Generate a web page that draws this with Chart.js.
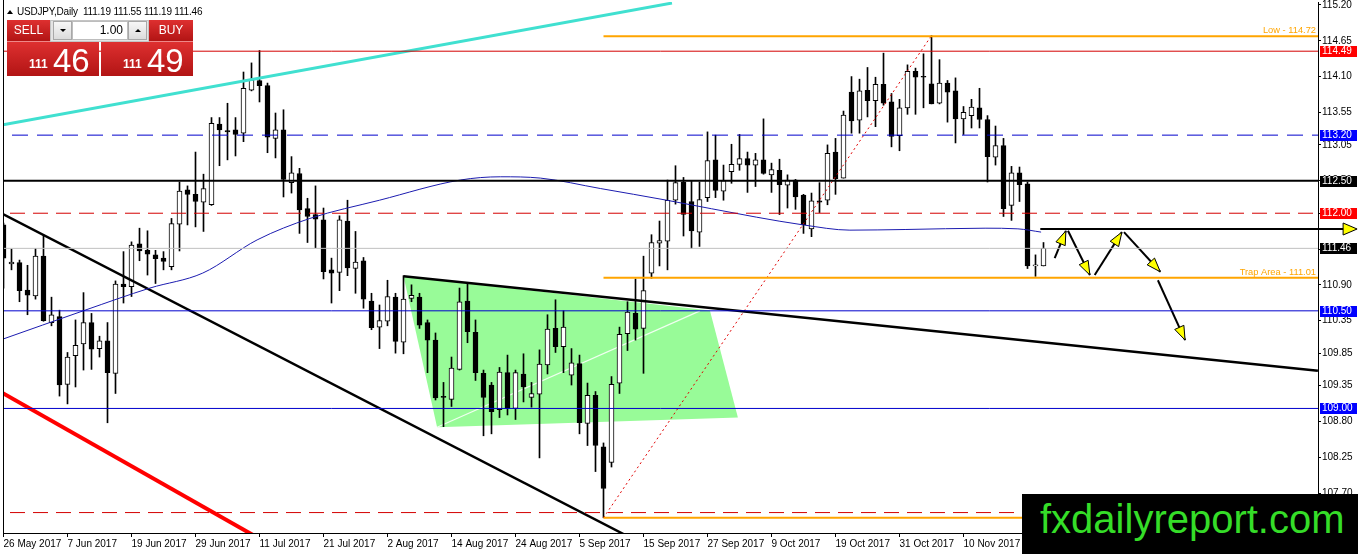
<!DOCTYPE html>
<html><head><meta charset="utf-8">
<script src="https://cdn.jsdelivr.net/npm/chart.js@4.4.1/dist/chart.umd.min.js"></script>
<style>
html,body{margin:0;padding:0;background:#fff;overflow:hidden}
#wrap{position:relative;width:1358px;height:554px;font-family:'Liberation Sans',Arial,sans-serif}
canvas{position:absolute;left:0;top:0}
.a{position:absolute;box-sizing:border-box}
.red{background:linear-gradient(#de3030,#b21414);color:#fff}
.btn{font-size:12px;line-height:21px;text-align:center;border-bottom:1px solid #e88}
.gray{background:linear-gradient(#f7f7f7,#dcdcdc);border:1px solid #a8a8a8}
</style></head>
<body>
<div id="wrap">
<canvas id="c" width="1358" height="554"></canvas>
<div class="a" style="left:7px;top:10px;width:0;height:0;border-left:3px solid transparent;border-right:3px solid transparent;border-bottom:4px solid #000"></div>
<div class="a" style="left:17px;top:6px;font-size:10px;line-height:12px;white-space:nowrap;letter-spacing:-0.2px;color:#000">USDJPY,Daily&nbsp; 111.19 111.55 111.19 111.46</div>
<div class="a red btn" style="left:7px;top:20px;width:43px;height:22px">SELL</div>
<div class="a" style="left:50px;top:20px;width:99px;height:22px;background:#e4e4e4;border:1px solid #c4c4c4"></div>
<div class="a gray" style="left:53px;top:21px;width:19px;height:19px"><div class="a" style="left:6px;top:7px;width:0;height:0;border-left:3px solid transparent;border-right:3px solid transparent;border-top:3px solid #000"></div></div>
<div class="a" style="left:72px;top:21px;width:56px;height:19px;background:#fff;border:1px solid #bdbdbd;font-size:12px;line-height:17px;text-align:right;padding-right:4px;color:#000">1.00</div>
<div class="a gray" style="left:128px;top:21px;width:19px;height:19px"><div class="a" style="left:6px;top:7px;width:0;height:0;border-left:3px solid transparent;border-right:3px solid transparent;border-bottom:3px solid #000"></div></div>
<div class="a red btn" style="left:149px;top:20px;width:44px;height:22px">BUY</div>
<div class="a red" style="left:7px;top:42px;width:92px;height:34px">
  <span class="a" style="left:22px;top:16px;font-size:12px;line-height:12px;font-weight:bold">111</span>
  <span class="a" style="left:46px;top:2px;font-size:33px;line-height:33px">46</span>
</div>
<div class="a red" style="left:101px;top:42px;width:92px;height:34px">
  <span class="a" style="left:22px;top:16px;font-size:12px;line-height:12px;font-weight:bold">111</span>
  <span class="a" style="left:46px;top:2px;font-size:33px;line-height:33px">49</span>
</div>
<div class="a" style="left:1022px;top:494px;width:336px;height:60px;background:#000">
  <span class="a" style="left:18px;top:5px;font-size:40px;line-height:40px;color:#35dd28;white-space:nowrap">fxdailyreport.com</span>
</div>
</div>
<script>
const dateLabels = ["26 May 2017","7 Jun 2017","19 Jun 2017","29 Jun 2017","11 Jul 2017","21 Jul 2017","2 Aug 2017","14 Aug 2017","24 Aug 2017","5 Sep 2017","15 Sep 2017","27 Sep 2017","9 Oct 2017","19 Oct 2017","31 Oct 2017","10 Nov 2017"];
const priceTicks = [115.20,114.65,114.10,113.55,113.05,112.50,112.00,111.45,110.90,110.35,109.85,109.35,108.80,108.25,107.70];

const opens = [111.82,111.22,111.24,110.82,110.73,111.34,110.32,110.41,109.37,109.81,109.99,110.32,109.92,110.04,109.54,110.91,110.87,111.53,111.43,111.36,
111.31,111.18,111.83,112.36,112.29,112.17,112.13,113.37,113.27,113.28,113.23,113.89,114.04,113.96,113.15,113.28,112.47,112.61,112.07,111.98,
111.90,111.13,111.09,111.88,111.15,111.27,110.65,110.25,110.34,110.71,110.02,110.69,110.71,110.32,110.05,109.17,109.14,109.60,110.65,110.17,
109.54,109.36,108.98,109.55,109.00,109.53,109.17,109.22,109.67,110.23,109.95,109.51,109.69,108.77,109.20,108.41,108.17,109.39,110.15,110.46,
110.23,111.08,111.54,111.57,112.20,112.48,112.18,111.71,112.24,112.82,112.34,112.64,112.75,112.84,112.74,112.82,112.59,112.66,112.43,112.51,
112.28,111.76,112.19,112.20,112.94,112.54,113.86,113.43,113.89,113.73,113.98,113.71,113.19,113.62,114.18,114.09,113.99,113.69,114.00,113.88,
113.45,113.50,113.62,113.44,112.86,113.04,112.12,112.62,112.45,111.19,111.19];
const highs = [111.85,111.45,111.28,111.20,111.46,111.67,110.71,110.51,109.86,110.36,110.78,110.46,110.11,110.32,110.96,111.41,111.56,111.77,111.73,111.43,
111.41,111.92,112.48,112.42,112.94,112.60,113.47,113.47,113.69,113.47,114.17,114.31,114.50,114.00,113.54,113.59,112.87,112.69,112.23,112.42,
112.08,111.31,111.96,112.20,111.72,111.32,110.77,110.59,110.97,110.77,111.04,110.90,110.77,110.36,110.16,109.40,109.79,110.85,110.92,110.36,
109.59,109.40,109.63,109.82,109.59,109.84,109.40,109.90,110.44,110.67,110.50,109.92,109.82,109.39,109.26,108.47,109.49,110.25,110.64,110.99,
111.34,111.67,111.88,112.51,112.73,112.55,112.50,112.48,113.25,113.20,112.74,113.06,113.21,112.94,112.92,113.45,112.77,112.83,112.59,112.52,
112.29,112.31,112.47,113.05,113.15,113.57,114.10,114.06,114.24,114.09,114.46,113.84,113.75,114.28,114.23,114.45,114.73,114.36,114.04,114.08,
113.64,113.75,113.92,113.50,113.34,113.15,112.72,112.71,112.48,111.36,111.55];
const lows = [110.85,111.13,110.64,110.44,110.68,110.34,110.27,109.19,109.07,109.33,109.59,109.60,109.79,108.78,109.23,110.62,110.72,111.27,111.05,110.92,
111.13,111.13,111.42,111.82,111.79,111.72,112.12,112.73,112.82,112.88,113.10,113.88,113.71,112.93,112.85,112.25,112.31,111.69,111.55,111.47,
110.99,110.62,110.81,111.04,110.77,110.54,110.21,109.92,110.27,109.85,109.84,110.64,110.23,109.55,109.13,108.72,109.03,109.59,110.01,109.43,
108.58,108.61,108.86,108.90,108.83,109.10,109.02,108.24,109.53,109.86,109.55,109.36,108.61,108.43,108.03,107.32,108.10,109.23,109.89,110.05,
109.54,111.00,111.19,111.13,112.14,111.65,111.46,111.49,112.18,112.24,112.20,112.46,112.66,112.32,112.41,112.60,112.32,111.98,112.08,112.06,
111.69,111.64,112.01,112.13,112.29,112.54,113.23,113.23,113.48,113.33,113.66,113.02,112.96,113.52,113.52,113.62,113.68,113.68,113.40,113.08,
113.21,113.31,113.31,112.48,112.74,111.95,111.89,112.18,111.15,111.03,111.19];
const closes = [111.31,111.25,110.81,110.74,111.34,110.35,110.44,109.36,109.79,109.97,110.32,109.91,110.04,109.55,110.91,110.87,111.51,111.42,111.37,111.30,
111.26,111.84,112.34,112.29,112.18,112.38,113.38,113.28,113.25,113.21,113.92,114.05,113.96,113.17,113.28,112.52,112.62,112.05,111.95,111.91,
111.10,111.08,111.90,111.16,111.25,110.68,110.24,110.35,110.72,110.03,110.68,110.74,110.28,110.05,109.16,109.17,109.62,110.64,110.18,109.55,
109.17,108.95,109.56,109.00,109.55,109.33,109.23,109.68,110.22,109.95,110.25,109.70,108.78,109.20,108.43,107.77,109.37,110.14,110.48,110.22,
110.81,111.55,111.58,112.20,112.47,111.98,111.73,112.21,112.81,112.35,112.50,112.75,112.84,112.74,112.82,112.61,112.67,112.44,112.51,112.25,
111.82,112.19,112.17,112.92,112.53,113.51,113.42,113.88,113.73,113.98,113.69,113.18,113.62,114.18,114.09,114.09,113.68,114.00,113.86,113.45,
113.55,113.63,113.44,112.87,113.04,112.07,112.62,112.44,111.19,111.20,111.46];

// moving average, read at selected bars
const maBars   = [-0.44,10.19,18.3,24.9,31.7,38.3,47.0,57.1,62.1,67.1,74.6,82.9,94.1,100.0,105.8,112.8,122.7,126.8,129.7];
const maValues = [110.05,110.51,110.85,111.08,111.59,111.92,112.20,112.51,112.56,112.54,112.38,112.20,111.94,111.82,111.74,111.75,111.77,111.76,111.71];

// horizontal levels
const levelRed = [114.49];
const levelBlueDash = [113.20];
const levelBlack = [112.50];
const levelRedDash = [112.00, 107.40];
const levelBid = [111.46];
const levelBlue = [110.50, 109.00];
const levelOrange = [114.72, 111.01, 107.32];
const orangeFromBar = 75;
const orangeTexts = ["Low - 114.72", "Trap Area - 111.01"];
const orangeTextLevels = [114.72, 111.01];

// trend objects as [bar, price] pairs
const cyanLine = [[-0.06,113.36],[83.56,115.23]];
const blackDownLine = [[-0.44,112.01],[77.5,107.07]];
const redDownLine = [[-0.44,109.26],[34.56,106.82]];
const wedgeTopLine = [[50.0,111.03],[164.3,109.58]];
const redDotLine = [[75,107.32],[116,114.73]];
const greenZone = [[50.0,111.03],[88.3,110.505],[91.8,108.86],[54.2,108.71],[50.0,111.03]];
const greenDiag = [[54.2,108.71],[87.06,110.50]];
const targetLine = [[129.6,111.76],[167.7,111.76]];
const forecastArrows = [
  [[131.4,111.31],[132.8,111.73]],
  [[133.06,111.73],[135.8,111.05]],
  [[136.4,111.05],[139.8,111.71]],
  [[140.06,111.71],[144.6,111.10]],
  [[144.3,110.97],[147.7,110.05]]
];
const axisTags = [114.49,113.20,112.50,112.00,111.46,110.50,109.00];
const axisTagColors = ['#ff0000','#0000ff','#000000','#ff0000','#000000','#0000ff','#0000ff'];

const X_MIN = -0.0625, X_MAX = 164.3125, Y_MIN = 107.086, Y_MAX = 115.246;
const FONT = "'Liberation Sans', Arial, sans-serif";
Chart.defaults.font.family = FONT;

const pts = arr => arr.map(p => ({x:p[0], y:p[1]}));
const lineDS = (data, color, width, extra) => Object.assign({type:'line', data, borderColor:color, borderWidth:width, pointRadius:0, tension:0, fill:false, order:5}, extra||{});
const hDS = (p, from, color, width, dash) => lineDS([{x:from,y:p},{x:X_MAX+2,y:p}], color, width, {borderDash:dash||[]});

const datasets = [];
// green zone
datasets.push(lineDS(pts(greenZone), 'rgba(0,0,0,0)', 0, {fill:'shape', backgroundColor:'#98fb98', order:40}));
datasets.push(lineDS(pts(greenDiag), 'rgba(255,255,255,0.85)', 1.2, {order:39}));
// candles
datasets.push({type:'bar', data: lows.map((l,i)=>({x:i,y:[l,highs[i]]})), backgroundColor:'#000', barThickness:1, grouped:false, order:31, minBarLength:1});
datasets.push({type:'bar', data: opens.map((o,i)=>({x:i,y:[Math.min(o,closes[i]),Math.max(o,closes[i])]})),
  backgroundColor: opens.map((o,i)=> closes[i] > o ? '#ffffff' : '#000000'),
  borderColor:'#000', borderWidth:1, borderSkipped:false, barThickness:5, grouped:false, order:30, minBarLength:1});
// levels
levelBid.forEach(p => datasets.push(hDS(p, X_MIN-2, '#c0c0c0', 1)));
levelRed.forEach(p => datasets.push(hDS(p, X_MIN-2, '#d40000', 1)));
levelBlueDash.forEach(p => datasets.push(hDS(p, X_MIN-2, '#0000cd', 1, [16,9])));
levelBlack.forEach(p => datasets.push(hDS(p, X_MIN-2, '#000000', 2)));
levelRedDash.forEach(p => datasets.push(hDS(p, X_MIN-2, '#d40000', 1, [15,8])));
levelBlue.forEach(p => datasets.push(hDS(p, X_MIN-2, '#0000cd', 1)));
levelOrange.forEach(p => datasets.push(hDS(p, orangeFromBar, '#ffa500', 2)));
// MA
datasets.push(lineDS(maBars.map((b,i)=>({x:b,y:maValues[i]})), '#1c1cb0', 1, {tension:0.4, cubicInterpolationMode:'monotone'}));
// trend lines
datasets.push(lineDS(pts(cyanLine), '#40e0d0', 3));
datasets.push(lineDS(pts(blackDownLine), '#000', 2.5));
datasets.push(lineDS(pts(redDownLine), '#ff0000', 4));
datasets.push(lineDS(pts(wedgeTopLine), '#000', 2.5));
datasets.push(lineDS(pts(redDotLine), '#e00000', 1, {borderDash:[2,3]}));
forecastArrows.forEach(a => datasets.push(lineDS(pts(a), '#000', 2)));

function head(ctx, x1, y1, x2, y2, len, half) {
  const a = Math.atan2(y2-y1, x2-x1);
  const bx = x2 - len*Math.cos(a), by = y2 - len*Math.sin(a);
  ctx.beginPath();
  ctx.moveTo(x2, y2);
  ctx.lineTo(bx + half*Math.sin(a), by - half*Math.cos(a));
  ctx.lineTo(bx - half*Math.sin(a), by + half*Math.cos(a));
  ctx.closePath();
  ctx.fillStyle = '#ffff00'; ctx.fill();
  ctx.strokeStyle = '#000'; ctx.lineWidth = 1; ctx.stroke();
}

const overlay = {
  id:'overlay',
  afterDatasetsDraw(chart) {
    const {ctx, scales:{x, y}, chartArea} = chart;
    ctx.save();
    // arrow heads
    forecastArrows.forEach(a => {
      head(ctx, x.getPixelForValue(a[0][0]), y.getPixelForValue(a[0][1]), x.getPixelForValue(a[1][0]), y.getPixelForValue(a[1][1]), 14, 5);
    });
    // orange texts
    ctx.font = '9.3px ' + FONT;
    ctx.fillStyle = '#ffa500';
    ctx.textAlign = 'right'; ctx.textBaseline = 'alphabetic';
    orangeTexts.forEach((t,i) => ctx.fillText(t, chartArea.right - 2, y.getPixelForValue(orangeTextLevels[i]) - 3));
    // left frame
    ctx.strokeStyle = '#000'; ctx.lineWidth = 1;
    ctx.beginPath(); ctx.moveTo(chartArea.left + 0.5, 0); ctx.lineTo(chartArea.left + 0.5, chartArea.bottom); ctx.stroke();
    ctx.restore();
  },
  afterDraw(chart) {
    const {ctx, scales:{x, y}, chartArea} = chart;
    ctx.save();
    // axis tags
    ctx.font = '10px ' + FONT;
    ctx.textAlign = 'left'; ctx.textBaseline = 'middle';
    axisTags.forEach((v,i) => {
      const py = Math.round(y.getPixelForValue(v));
      ctx.fillStyle = axisTagColors[i];
      ctx.fillRect(chartArea.right + 2, py - 5, 37, 11);
      ctx.fillStyle = '#fff';
      ctx.fillText(v.toFixed(2), chartArea.right + 4, py + 0.5);
    });
    // target line with end arrow
    const x1 = x.getPixelForValue(targetLine[0][0]), x2 = x.getPixelForValue(targetLine[1][0]);
    const py = Math.round(y.getPixelForValue(targetLine[0][1]));
    ctx.strokeStyle = '#000'; ctx.lineWidth = 2;
    ctx.beginPath(); ctx.moveTo(x1, py); ctx.lineTo(x2, py); ctx.stroke();
    ctx.beginPath();
    ctx.moveTo(x2 - 2, py - 6); ctx.lineTo(x2 + 12, py); ctx.lineTo(x2 - 2, py + 6); ctx.closePath();
    ctx.fillStyle = '#ffff00'; ctx.fill(); ctx.lineWidth = 1; ctx.stroke();
    ctx.restore();
  }
};

new Chart(document.getElementById('c'), {
  type:'bar',
  data:{datasets},
  options:{
    responsive:false, animation:false, events:[],
    layout:{padding:{left:3, top:2, right:0, bottom:0}},
    plugins:{legend:{display:false}, tooltip:{enabled:false}},
    scales:{
      x:{type:'linear', position:'bottom', min:X_MIN, max:X_MAX, offset:false,
        grid:{display:true, drawOnChartArea:false, drawTicks:true, tickLength:4, color:'#000', offset:false},
        border:{display:true, color:'#000', width:1},
        afterBuildTicks: s => { s.ticks = dateLabels.map((_,k)=>({value:k*8})); },
        afterFit: s => { s.height = 21; s.paddingLeft = 0; s.paddingRight = 0; },
        ticks:{autoSkip:false, maxRotation:0, minRotation:0, align:'start', padding:1, color:'#000', font:{size:10},
          callback: v => dateLabels[Math.round(v/8)] || ''}
      },
      y:{type:'linear', position:'right', min:Y_MIN, max:Y_MAX,
        grid:{display:true, drawOnChartArea:false, tickLength:3, color:'#000'},
        border:{display:true, color:'#000', width:1},
        afterBuildTicks: s => { s.ticks = priceTicks.map(v=>({value:v})); },
        afterFit: s => { s.width = 40; s.paddingTop = 0; s.paddingBottom = 0; },
        ticks:{autoSkip:false, padding:1, color:'#000', font:{size:10}, callback: v => Number(v).toFixed(2)}
      }
    }
  },
  plugins:[overlay]
});
</script>
</body></html>
